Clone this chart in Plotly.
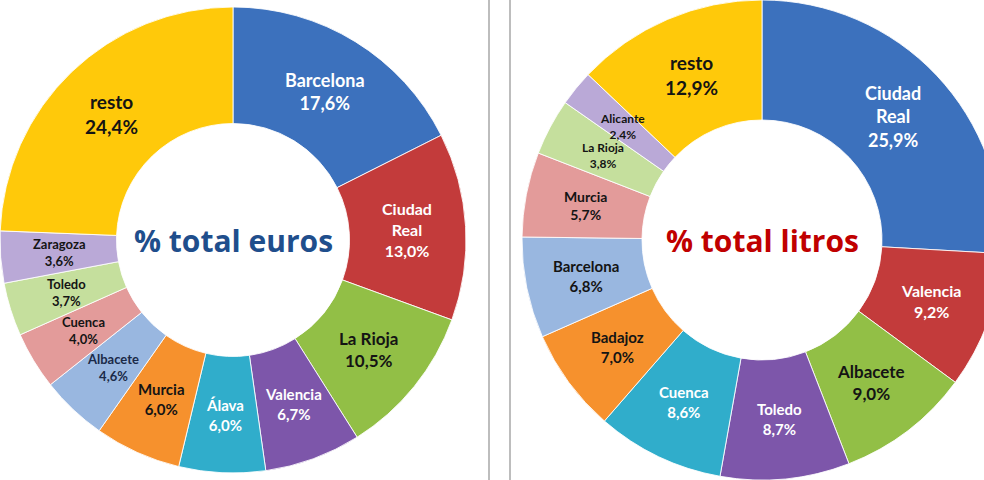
import math
import plotly.graph_objects as go

# ---- data ----
euros_labels = ["Barcelona", "Ciudad Real", "La Rioja", "Valencia", "Álava", "Murcia",
                "Albacete", "Cuenca", "Toledo", "Zaragoza", "resto"]
euros_values = [17.6, 13.0, 10.5, 6.7, 6.0, 6.0, 4.6, 4.0, 3.7, 3.6, 24.4]

litros_labels = ["Ciudad Real", "Valencia", "Albacete", "Toledo", "Cuenca", "Badajoz",
                 "Barcelona", "Murcia", "La Rioja", "Alicante", "resto"]
litros_values = [25.9, 9.2, 9.0, 8.7, 8.6, 7.0, 6.8, 5.7, 3.8, 2.4, 12.9]

# ---- styles ----
W, H = 1004, 480
HOLE = 0.5
palette = ["#3C71BD", "#C33B3B", "#92BF46", "#7D56AA", "#30ADCB", "#F6912D",
           "#99B7E0", "#E39B9A", "#C5DF9D", "#BAA9D7", "#FFC90A"]
DARK = "#141414"
euros_textcolors = ["white", "white", DARK, "white", "white", DARK,
                    "#1b2a48", DARK, DARK, DARK, DARK]
euros_textsizes = [18, 16, 17, 15, 15, 15, 13, 13, 13, 13, 19]
litros_textcolors = ["white", "white", DARK, "white", "white", DARK,
                     DARK, DARK, DARK, DARK, DARK]
litros_textsizes = [18, 16, 17, 15, 15, 15, 15, 14, 12, 12, 19]

# pie domains in pixels (x0, x1)
left_dom = (0, 466)
right_dom = (522, 1002)


def fmt(v):
    return f"{v:.1f}".replace(".", ",") + "%"


def disp(name):
    return name.replace("Ciudad Real", "Ciudad<br>Real")


fig = go.Figure()


def add_donut(labels, values, dom, colors, sizes):
    fig.add_trace(go.Pie(
        labels=labels, values=values, textinfo="none",
        hole=HOLE, sort=False, direction="clockwise", rotation=0,
        marker=dict(colors=palette, line=dict(color="rgba(255,255,255,0.85)", width=1)),
        domain=dict(x=[dom[0] / W, dom[1] / W], y=[0, 1]), showlegend=False,
        hovertemplate="%{label}: %{value}%<extra></extra>",
    ))
    # data labels at the middle of the ring, at each slice's mid angle
    r = min(dom[1] - dom[0], H) / 2
    cx, cy = (dom[0] + dom[1]) / 2, H / 2
    rm = r * (1 + HOLE) / 2
    total = sum(values)
    cum = 0.0
    for name, v, col, sz in zip(labels, values, colors, sizes):
        ang = 2 * math.pi * (cum + v / 2) / total
        cum += v
        px = cx + rm * math.sin(ang)
        py = cy - rm * math.cos(ang)
        fig.add_annotation(
            text=disp(name) + "<br>" + fmt(v), x=px / W, y=1 - py / H,
            xref="paper", yref="paper", xanchor="center", yanchor="middle",
            showarrow=False,
            font=dict(family="Lato", size=sz, color=col, weight="bold"),
        )
    return cx


cxl = add_donut(euros_labels, euros_values, left_dom, euros_textcolors, euros_textsizes)
cxr = add_donut(litros_labels, litros_values, right_dom, litros_textcolors, litros_textsizes)

fig.add_annotation(text="% total euros", x=cxl / W, y=0.5, xref="paper", yref="paper",
                   xanchor="center", yanchor="middle", showarrow=False,
                   font=dict(family="Open Sans", size=30, color="#1F4E8C", weight="bold"))
fig.add_annotation(text="% total litros", x=cxr / W, y=0.5, xref="paper", yref="paper",
                   xanchor="center", yanchor="middle", showarrow=False,
                   font=dict(family="Open Sans", size=30, color="#C00000", weight="bold"))

for xv in [489, 510]:
    fig.add_shape(type="line", xref="paper", yref="paper", x0=xv / W, x1=xv / W, y0=0, y1=1,
                  line=dict(color="#BDBDBD", width=2))

fig.update_layout(width=W, height=H, margin=dict(l=0, r=0, t=0, b=0),
                  paper_bgcolor="white", plot_bgcolor="white")

fig.write_html("out.html", config={"displayModeBar": False},
               post_script="document.body.style.margin='0';document.body.style.overflow='hidden';")
